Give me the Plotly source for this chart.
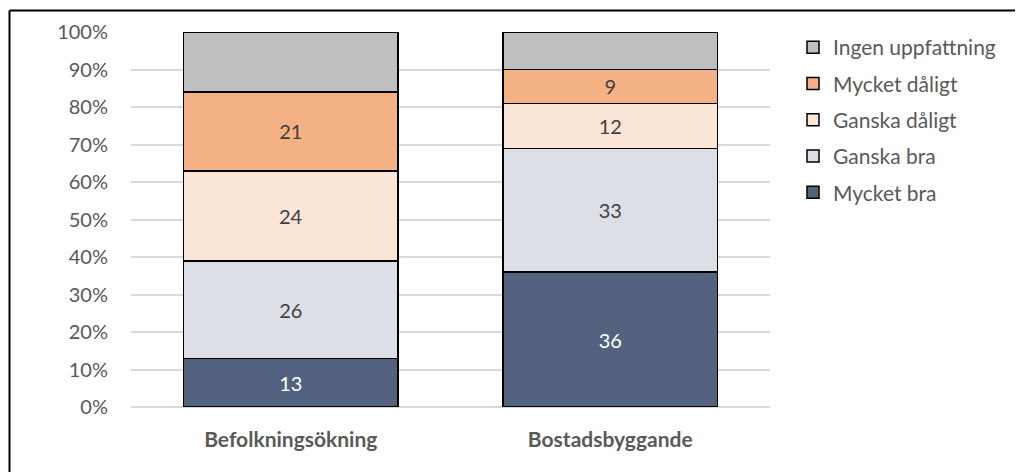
import plotly.graph_objects as go

categories = ["Befolkningsökning", "Bostadsbyggande"]
series_names = ["Mycket bra", "Ganska bra", "Ganska dåligt", "Mycket dåligt", "Ingen uppfattning"]
mycket_bra = [13, 36]
ganska_bra = [26, 33]
ganska_daligt = [24, 12]
mycket_daligt = [21, 9]
ingen = [16, 10]
show_labels = [True, True, True, True, False]
tick_vals = [0, 10, 20, 30, 40, 50, 60, 70, 80, 90, 100]
tick_text = ["0%", "10%", "20%", "30%", "40%", "50%", "60%", "70%", "80%", "90%", "100%"]

series_values = [mycket_bra, ganska_bra, ganska_daligt, mycket_daligt, ingen]
colors = ["#53637F", "#DCDFE6", "#FBE5D6", "#F4B183", "#BFBFBF"]
label_colors = ["#FFFFFF", "#404040", "#404040", "#404040", "#404040"]

FONT = "Lato"
W, H = 1023, 472
OFF = 8  # browser body margin
ml, mt = 131 - OFF, 32 - OFF
mr = W - (770 - OFF)
mb = H - (407 - OFF)

fig = go.Figure()
n = len(series_names)
for i, (name, vals, col, lc, sl) in enumerate(zip(series_names, series_values, colors, label_colors, show_labels)):
    fig.add_trace(go.Bar(
        x=categories, y=vals, name=name,
        marker=dict(color=col, line=dict(color="#000000", width=1.5)),
        text=[str(v) for v in vals] if sl else None,
        texttemplate="%{text}" if sl else None,
        textposition="inside" if sl else "none",
        insidetextanchor="middle",
        textangle=0,
        textfont=dict(family=FONT, size=20, color=lc),
        legendgroup=name,
        legendrank=1000 - i,
        hoverinfo="skip",
    ))

pw = W - ml - mr
ph = H - mt - mb
bx0 = (9.5 - OFF - ml) / pw
by1 = ((407 - OFF) - (10.5 - OFF)) / ph

fig.update_layout(
    width=W, height=H,
    barmode="stack",
    bargap=0.33,
    margin=dict(l=ml, r=mr, t=mt, b=mb, pad=0),
    plot_bgcolor="white", paper_bgcolor="white",
    font=dict(family=FONT, size=20, color="#595959"),
    xaxis=dict(
        tickfont=dict(family=FONT, size=21, color="#595959", weight="bold"),
        showline=False, ticks="", showgrid=False,
        ticklabelstandoff=18,
    ),
    yaxis=dict(
        range=[0, 100], tickvals=tick_vals, ticktext=tick_text,
        showgrid=True, gridcolor="#D9D9D9", gridwidth=1.5,
        zeroline=True, zerolinecolor="#D9D9D9", zerolinewidth=1.5,
        showline=False, ticks="",
        tickfont=dict(family=FONT, size=20, color="#595959"),
        ticklabelstandoff=22,
    ),
    legend=dict(
        x=(785 - ml) / pw, xanchor="left",
        y=((407 - OFF) - (27 - OFF)) / ph, yanchor="top",
        traceorder="grouped",
        tracegroupgap=6,
        font=dict(family=FONT, size=21, color="#595959"),
        itemwidth=30,
        bgcolor="rgba(0,0,0,0)",
    ),
    showlegend=True,
    shapes=[
        dict(type="line", xref="paper", yref="paper", x0=bx0, x1=2.0, y0=by1, y1=by1,
             line=dict(color="#000000", width=2)),
        dict(type="line", xref="paper", yref="paper", x0=bx0, x1=bx0, y0=by1, y1=-1.0,
             line=dict(color="#000000", width=2)),
    ],
)

fig.write_html("out.html")
